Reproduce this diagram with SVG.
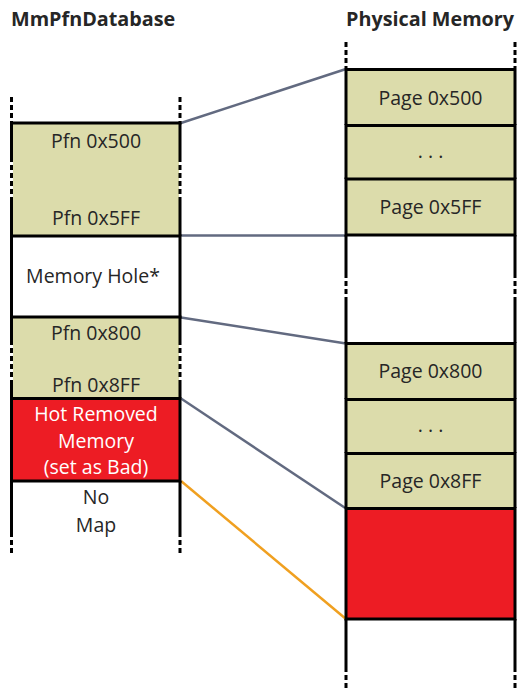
<svg xmlns="http://www.w3.org/2000/svg" width="520" height="690" viewBox="0 0 520 690">
<style>
.t{font-family:"Open Sans","Noto Sans","Liberation Sans",sans-serif;font-size:19.5px;fill:#262626;text-anchor:middle}
.w{fill:#ffffff}
.h{font-family:"Open Sans","Noto Sans","Liberation Sans",sans-serif;font-size:19.8px;font-weight:bold;fill:#262626}
.tan{fill:#dcdcab}
.red{fill:#ed1c24}
.b{stroke:#000;stroke-width:3;fill:none}
.d{stroke:#000;stroke-width:3;fill:none;stroke-dasharray:5 3}
.c{stroke:#626a80;stroke-width:2.5;fill:none}
.o{stroke:#f0a020;stroke-width:2.5;fill:none}
</style>
<rect width="520" height="690" fill="#fff"/>
<text class="h" x="11" y="25.5">MmPfnDatabase</text>
<text class="h" x="346" y="26">Physical Memory</text>

<g id="connectors">
<line class="c" x1="181" y1="123" x2="346" y2="69"/>
<line class="c" x1="181" y1="235.5" x2="346" y2="235.5"/>
<line class="c" x1="181" y1="317.5" x2="346" y2="343.5"/>
<line class="c" x1="181" y1="398.5" x2="346" y2="508.5"/>
<line class="o" x1="181" y1="481" x2="346" y2="619"/>
</g>

<g id="pfn-500-5ff">
<rect class="tan" x="13" y="123" width="166" height="113"/>
<path class="b" d="M11.5 123V157M180 123V157M11.5 200V236M180 200V236"/>
<path class="d" d="M11.5 157V200M180 157V200"/>
<path class="b" d="M10 123H181.5"/>
<text class="t" x="96" y="148">Pfn 0x500</text>
<text class="t" x="96" y="225">Pfn 0x5FF</text>
</g>
<g id="memory-hole">
<path class="b" d="M11.5 236V317M180 236V317M10 236H181.5"/>
<text class="t" x="93" y="282.5">Memory Hole*</text>
</g>
<g id="pfn-800-8ff">
<rect class="tan" x="13" y="317" width="166" height="81"/>
<path class="b" d="M11.5 317V340M180 317V340M11.5 380V398M180 380V398"/>
<path class="d" d="M11.5 340V380M180 340V380"/>
<path class="b" d="M10 317H181.5"/>
<text class="t" x="96" y="339.5">Pfn 0x800</text>
<text class="t" x="96" y="391.5">Pfn 0x8FF</text>
</g>
<g id="hot-removed">
<rect class="red" x="11.5" y="398" width="168.5" height="83"/>
<path class="b" d="M11.5 398V481M180 398V481M10 398.5H181.5M10 481H181.5"/>
<text class="t w" x="96" y="420.5">Hot Removed</text>
<text class="t w" x="96" y="448">Memory</text>
<text class="t w" x="96" y="474">(set as Bad)</text>
</g>
<g id="no-map">
<path class="b" d="M11.5 481V532M180 481V532"/>
<path class="d" d="M11.5 532V553M180 532V553"/>
<text class="t" x="96" y="504">No</text>
<text class="t" x="96" y="531.5">Map</text>
</g>
<g id="left-top">
<path class="d" d="M11.5 97V122M180 97V122"/>
</g>

<g id="right-top">
<path class="d" d="M346 42V68M515 42V68"/>
</g>
<g id="page-500">
<rect class="tan" x="346" y="69" width="169" height="56"/>
<path class="b" d="M346 69V125M515 69V125M344.5 69.5H516.5"/>
<text class="t" x="430.5" y="105">Page 0x500</text>
</g>
<g id="page-500-dots">
<rect class="tan" x="346" y="125" width="169" height="54"/>
<path class="b" d="M346 125V179M515 125V179M344.5 125.5H516.5"/>
<text class="t" x="430.5" y="158">. . .</text>
</g>
<g id="page-5ff">
<rect class="tan" x="346" y="179" width="169" height="56"/>
<path class="b" d="M346 179V235M515 179V235M344.5 179H516.5M344.5 235H516.5"/>
<text class="t" x="430.5" y="213.5">Page 0x5FF</text>
</g>
<g id="gap">
<path class="b" d="M346 235V273M515 235V273M346 302V343M515 302V343"/>
<path class="d" d="M346 273V302M515 273V302"/>
</g>
<g id="page-800">
<rect class="tan" x="346" y="343" width="169" height="56"/>
<path class="b" d="M346 343V399M515 343V399M344.5 343.5H516.5"/>
<text class="t" x="430.5" y="378">Page 0x800</text>
</g>
<g id="page-800-dots">
<rect class="tan" x="346" y="399" width="169" height="54"/>
<path class="b" d="M346 399V453M515 399V453M344.5 399.5H516.5"/>
<text class="t" x="430.5" y="432">. . .</text>
</g>
<g id="page-8ff">
<rect class="tan" x="346" y="453" width="169" height="55"/>
<path class="b" d="M346 453V508M515 453V508M344.5 453.5H516.5"/>
<text class="t" x="430.5" y="488">Page 0x8FF</text>
</g>
<g id="removed-pages">
<rect class="red" x="346" y="508" width="169" height="111"/>
<path class="b" d="M346 508V619M515 508V619M344.5 508.5H516.5M344.5 619H516.5"/>
</g>
<g id="right-bottom">
<path class="b" d="M346 619V667M515 619V667"/>
<path class="d" d="M346 667V690M515 667V690"/>
</g>
</svg>
